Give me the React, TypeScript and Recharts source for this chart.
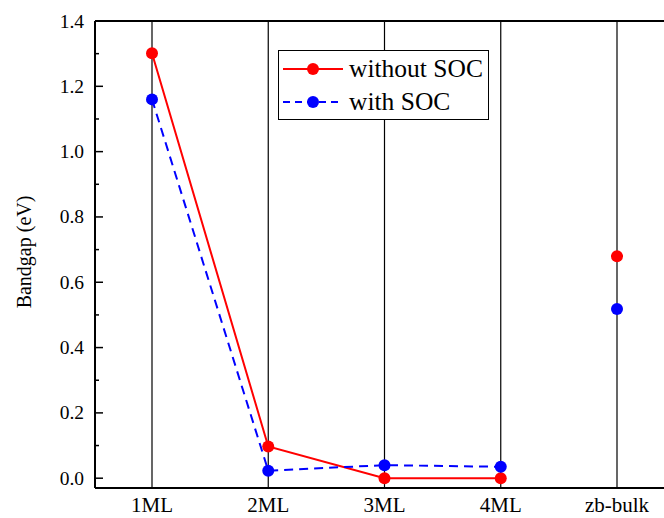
import React from "react";
import {
  LineChart,
  Line,
  XAxis,
  YAxis,
  CartesianGrid,
  ReferenceLine,
} from "recharts";

const CATEGORIES = ["1ML", "2ML", "3ML", "4ML", "zb-bulk"];
// layered films are joined by a line, bulk values stand alone
const WITHOUT_SOC = [1.301, 0.097, 0.0, 0.0, null];
const WITH_SOC = [1.16, 0.023, 0.04, 0.035, null];
const WITHOUT_SOC_BULK = [null, null, null, null, 0.68];
const WITH_SOC_BULK = [null, null, null, null, 0.518];
const Y_TICKS = [0, 0.1, 0.2, 0.3, 0.4, 0.5, 0.6, 0.7, 0.8, 0.9, 1.0, 1.1, 1.2, 1.3, 1.4];

const RED = "#ff0000";
const BLUE = "#0000ff";
const FONT = "Liberation Serif, DejaVu Serif, Times New Roman, serif";

const rows = CATEGORIES.map((c, i) => ({
  name: c,
  noSoc: WITHOUT_SOC[i],
  soc: WITH_SOC[i],
  noSocBulk: WITHOUT_SOC_BULK[i],
  socBulk: WITH_SOC_BULK[i],
}));

// inward ticks: long ones labelled every 0.2, short unlabelled ones between
function YTick(props: any) {
  const { x, y, payload } = props;
  const v = Number(payload.value);
  const major = Math.round(v * 10) % 2 === 0;
  const axisX = x + 11;
  return (
    <g>
      <line x1={axisX} x2={axisX + (major ? 8 : 4)} y1={y} y2={y} stroke="#000" strokeWidth={1.5} />
      {major && (
        <text x={x} y={y} textAnchor="end" dominantBaseline="central" fontSize={19.5} style={{ fontFamily: FONT }} fill="#000">
          {v.toFixed(1)}
        </text>
      )}
    </g>
  );
}

function LegendRow({ color, dashed, label }: { color: string; dashed?: boolean; label: string }) {
  return (
    <div style={{ display: "flex", alignItems: "center", height: 33 }}>
      <svg width={64} height={16} style={{ marginLeft: 3 }}>
        <line x1={1} x2={61} y1={8} y2={8} stroke={color} strokeWidth={2} strokeDasharray={dashed ? "7 5" : undefined} />
        <circle cx={31} cy={8} r={6} fill={color} />
      </svg>
      <span style={{ fontFamily: FONT, fontSize: 25.5, marginLeft: 3, color: "#000", lineHeight: 1 }}>{label}</span>
    </div>
  );
}

export default function App() {
  return (
    <div style={{ position: "fixed", left: 0, top: 0, width: 664, height: 518, overflow: "hidden", background: "#fff", fontFamily: FONT }}>
      <LineChart width={690} height={518} data={rows} margin={{ top: 21, right: 15, bottom: 0, left: 0 }}>
        <CartesianGrid horizontal={false} stroke="#000" strokeWidth={1.2} />
        <XAxis
          dataKey="name"
          height={30}
          padding={{ left: 57, right: 58 }}
          tickSize={0}
          tickMargin={9}
          axisLine={{ stroke: "#000", strokeWidth: 2 }}
          tick={{ fontSize: 21, fill: "#000", style: { fontFamily: FONT } }}
          interval={0}
        />
        <YAxis
          type="number"
          width={95}
          domain={[-0.03, 1.4]}
          ticks={Y_TICKS}
          interval={0}
          tickSize={0}
          tickMargin={11}
          axisLine={{ stroke: "#000", strokeWidth: 2 }}
          tick={<YTick />}
          label={{
            content: () => (
              <text
                x={24}
                y={252}
                transform="rotate(-90 24 252)"
                textAnchor="middle"
                dominantBaseline="central"
                fontSize={20}
                style={{ fontFamily: FONT }}
                fill="#000"
              >
                Bandgap (eV)
              </text>
            ),
          }}
        />
        <ReferenceLine y={1.4} stroke="#000" strokeWidth={2} />
        <Line
          dataKey="noSoc"
          stroke={RED}
          strokeWidth={2}
          dot={{ r: 6, fill: RED, stroke: "none" }}
          activeDot={false}
          connectNulls={false}
          isAnimationActive={false}
        />
        <Line
          dataKey="soc"
          stroke={BLUE}
          strokeWidth={2}
          strokeDasharray="9 6"
          dot={{ r: 6, fill: BLUE, stroke: "none" }}
          activeDot={false}
          connectNulls={false}
          isAnimationActive={false}
        />
        <Line
          dataKey="noSocBulk"
          stroke="none"
          dot={{ r: 6, fill: RED, stroke: "none" }}
          activeDot={false}
          isAnimationActive={false}
        />
        <Line
          dataKey="socBulk"
          stroke="none"
          dot={{ r: 6, fill: BLUE, stroke: "none" }}
          activeDot={false}
          isAnimationActive={false}
        />
      </LineChart>
      <div
        style={{
          position: "absolute",
          left: 278,
          top: 50,
          width: 211,
          height: 70,
          border: "1px solid #000",
          boxSizing: "border-box",
          background: "#fff",
          paddingTop: 1,
        }}
      >
        <LegendRow color={RED} label="without SOC" />
        <LegendRow color={BLUE} dashed label="with SOC" />
      </div>
    </div>
  );
}
